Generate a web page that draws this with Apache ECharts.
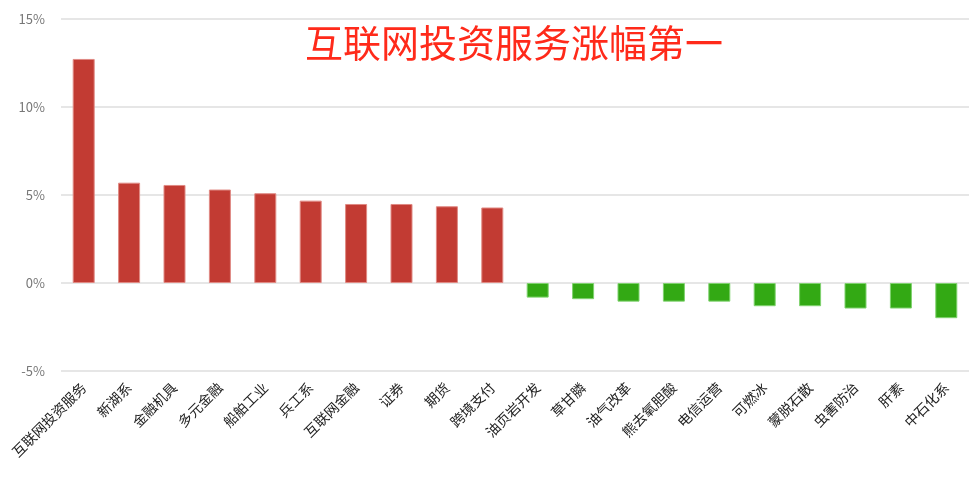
<!DOCTYPE html>
<html>
<head>
<meta charset="UTF-8">
<title>互联网投资服务涨幅第一</title>
<style>
	html, body { margin: 0; padding: 0; background: #fff; }
	#main { width: 969px; height: 482px; }
</style>
</head>
<body>
<div id="main"></div>
<script src="https://cdn.jsdelivr.net/npm/echarts@6/dist/echarts.min.js"></script>
<script type="text/javascript">
	// 板块名称
	var categories = ["互联网投资服务", "新湖系", "金融机具", "多元金融", "船舶工业", "兵工系", "互联网金融", "证券", "期货", "跨境支付",
		"油页岩开发", "草甘膦", "油气改革", "熊去氧胆酸", "电信运营", "可燃冰", "蒙脱石散", "虫害防治", "肝素", "中石化系"];
	// 涨跌幅(%)
	var changes = [12.73, 5.70, 5.57, 5.31, 5.10, 4.68, 4.49, 4.49, 4.36, 4.29,
		-0.83, -0.92, -1.06, -1.06, -1.06, -1.32, -1.32, -1.45, -1.45, -2.00];
	// y轴刻度
	var yTicks = [-5, 0, 5, 10, 15];

	var upColor = '#c23b33';
	var downColor = '#33a914';

	var myChart = echarts.init(document.getElementById('main'));

	var option = {
		animation: false,
		title: {
			text: '互联网投资服务涨幅第一',
			left: 300,
			top: 19,
			textStyle: {
				color: '#ff2a1a',
				fontSize: 38,
				fontWeight: 'normal',
				fontFamily: 'Noto Sans CJK SC'
			}
		},
		grid: {
			left: 61,
			right: 0,
			top: 19,
			bottom: 111
		},
		xAxis: {
			type: 'category',
			data: categories,
			axisLine: { show: false },
			axisTick: { show: false },
			axisLabel: {
				rotate: 45,
				interval: 0,
				margin: 14,
				color: '#222',
				fontSize: 14,
				fontFamily: 'Noto Sans CJK SC'
			}
		},
		yAxis: {
			type: 'value',
			min: yTicks[0],
			max: yTicks[yTicks.length - 1],
			interval: 5,
			axisLine: { show: false },
			axisTick: { show: false },
			axisLabel: {
				formatter: '{value}%',
				color: '#777',
				fontSize: 13,
				margin: 16,
				fontFamily: 'Noto Sans CJK SC'
			},
			splitLine: { lineStyle: { color: '#e6e6e6', width: 2 } }
		},
		series: [{
			name: '涨幅',
			type: 'bar',
			barWidth: 22,
			data: changes.map(function (v) {
				return {
					value: v,
					itemStyle: {
						color: v >= 0 ? upColor : downColor,
						borderColor: v >= 0 ? '#e08a84' : '#7fd26e',
						borderWidth: 1
					}
				};
			})
		}]
	};

	myChart.setOption(option);
</script>
</body>
</html>
